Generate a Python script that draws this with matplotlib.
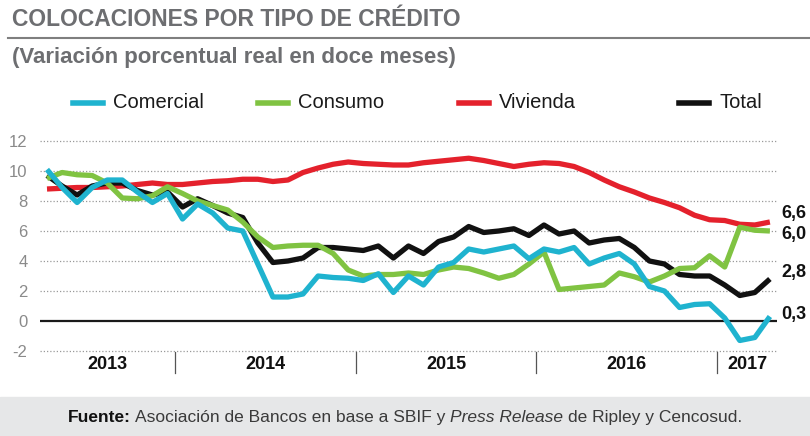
import matplotlib
matplotlib.use('Agg')
import matplotlib.pyplot as plt
import numpy as np
import pandas as pd
from matplotlib.lines import Line2D
from matplotlib.patches import Rectangle

NARROW = ['Liberation Sans Narrow', 'Liberation Sans', 'DejaVu Sans']
SANS = ['Liberation Sans', 'DejaVu Sans']
plt.rcParams['font.family'] = SANS
plt.rcParams['axes.unicode_minus'] = False

# monthly data, Apr 2013 - Apr 2017 (real 12-month % change)
months = pd.date_range('2013-04-01', periods=49, freq='MS')
comercial = [10.1, 8.9, 7.9, 8.9, 9.4, 9.4, 8.6, 7.9, 8.5, 6.8, 7.8, 7.2, 6.2, 6.0, 3.8, 1.6,
             1.6, 1.8, 3.0, 2.9, 2.85, 2.7, 3.15, 1.9, 3.0, 2.4, 3.6, 3.9, 4.8, 4.6, 4.8, 5.0,
             4.15, 4.8, 4.6, 4.9, 3.8, 4.2, 4.5, 3.8, 2.3, 2.0, 0.9, 1.1, 1.15, 0.2, -1.3, -1.1, 0.3]
consumo = [9.5, 9.9, 9.75, 9.7, 9.2, 8.2, 8.15, 8.35, 8.95, 8.5, 8.0, 7.7, 7.4, 6.6, 5.6, 4.9,
           5.0, 5.05, 5.05, 4.5, 3.4, 3.0, 3.1, 3.1, 3.2, 3.1, 3.4, 3.6, 3.5, 3.2, 2.85, 3.1,
           3.8, 4.6, 2.1, 2.2, 2.3, 2.4, 3.2, 2.95, 2.6, 3.0, 3.5, 3.55, 4.35, 3.6, 6.25, 6.05, 6.0]
vivienda = [8.8, 8.85, 8.9, 8.9, 8.95, 9.0, 9.1, 9.2, 9.1, 9.1, 9.2, 9.3, 9.35, 9.45, 9.45, 9.3,
            9.4, 9.9, 10.2, 10.45, 10.6, 10.5, 10.45, 10.4, 10.4, 10.55, 10.65, 10.75, 10.85, 10.7,
            10.5, 10.3, 10.45, 10.55, 10.5, 10.3, 9.9, 9.4, 8.95, 8.6, 8.2, 7.9, 7.55, 7.05, 6.75,
            6.7, 6.45, 6.4, 6.6]
total = [9.7, 9.0, 8.4, 9.0, 9.2, 9.2, 8.7, 8.4, 8.6, 7.6, 8.15, 7.7, 7.2, 6.9, 5.2, 3.9,
         4.0, 4.2, 4.9, 4.9, 4.8, 4.7, 5.0, 4.2, 5.0, 4.5, 5.3, 5.6, 6.3, 5.9, 6.0, 6.15, 5.7,
         6.4, 5.8, 6.0, 5.2, 5.4, 5.5, 4.9, 4.0, 3.8, 3.1, 3.0, 3.0, 2.4, 1.7, 1.9, 2.8]
names = ['Comercial', 'Consumo', 'Vivienda', 'Total']
end_labels = ['0,3', '6,0', '6,6', '2,8']

colors = ['#1fb3cf', '#80c342', '#e4212c', '#111111']
label_dy = [0.1, -0.25, 0.55, 0.4]   # nudges for the end labels
legend_x = [73, 258, 459, 679]       # legend swatch positions (px)

W, H = 810, 436
fig = plt.figure(figsize=(W / 100, H / 100), dpi=100)


def fx(px):
    return px / W


def fy(py):
    return 1 - py / H


# footer band
fig.add_artist(Rectangle((0, 0), 1, fy(397), transform=fig.transFigure, color='#e6e7e8', zorder=0))

# axes: x index -> pixels 47 + 15.06*i ; y 12 at 141px, -2 at 351px
x0_px, step_px = 47, 15.06
ax_l, ax_r = 40, 777
ax = fig.add_axes([fx(ax_l), fy(351), fx(ax_r - ax_l), (351 - 141) / H])
ax.set_xlim((ax_l - x0_px) / step_px, (ax_r - x0_px) / step_px)
ax.set_ylim(-2, 12)
ax.patch.set_alpha(0)
for s in ax.spines.values():
    s.set_visible(False)
ax.set_xticks([])
ax.set_yticks(range(-2, 13, 2))
ax.tick_params(axis='y', length=0, pad=9, labelsize=12, labelcolor='#8a8a8a')

for v in range(-2, 13, 2):
    if v == 0:
        ax.axhline(0, color='#1a1a1a', lw=1.6, zorder=1)
    else:
        ax.axhline(v, color='#9a9a9a', lw=0.9, ls=(0, (1, 1.6)), clip_on=False, zorder=1)

x = np.arange(len(months))
series = [comercial, consumo, vivienda, total]
draw_order = [2, 3, 1, 0]  # red, black, green, cyan on top
for k in draw_order:
    ax.plot(x, series[k], color=colors[k], lw=3.8, solid_joinstyle='round',
            solid_capstyle='butt', clip_on=False, zorder=3 + draw_order.index(k))

for k in range(4):
    ax.text(x[-1] + 0.75, series[k][-1] + label_dy[k], end_labels[k], family=NARROW,
            fontweight='bold', fontsize=13, color='#111111', va='center', ha='left', clip_on=False)

# years: dividers and labels
years = months.year
for yr in sorted(set(years)):
    idx = np.where(years == yr)[0]
    ax.text(idx.mean(), -2.87, str(yr), ha='center', va='center', fontweight='bold',
            fontsize=13, color='#111111', clip_on=False)
    if idx[0] > 0:
        ax.plot([idx[0] - 0.5] * 2, [-2.07, -3.47], color='#555555', lw=0.9, clip_on=False)

# title block
fig.text(fx(12), fy(19), 'COLOCACIONES POR TIPO DE CRÉDITO', family=NARROW, weight='bold',
         size=16.5, color='#6d6e71', va='center')
fig.add_artist(Line2D([fx(8), 1], [fy(38), fy(38)], color='#7f7f7f', lw=1.5))
fig.text(fx(12), fy(58), '(Variación porcentual real en doce meses)', family=NARROW, weight='bold',
         size=16, color='#6d6e71', va='center')

# legend
for k in range(4):
    fig.add_artist(Line2D([fx(legend_x[k]), fx(legend_x[k] + 30)], [fy(103), fy(103)],
                          color=colors[k], lw=4))
    fig.text(fx(legend_x[k] + 40), fy(103), names[k], family=NARROW, size=14.5,
             color='#1a1a1a', va='center')

# footer with mixed styles
pieces = [('Fuente:', dict(weight='bold', color='#111111')),
          ('Asociación de Bancos en base a SBIF y', dict(color='#3a3a3a')),
          ('Press Release', dict(style='italic', color='#3a3a3a')),
          ('de Ripley y Cencosud.', dict(color='#3a3a3a'))]
renderer = fig.canvas.get_renderer()
texts = [fig.text(0, fy(417), t, size=12.5, va='center', **kw) for t, kw in pieces]
widths = [t.get_window_extent(renderer).width for t in texts]
gap = 4.5
start = (W - (sum(widths) + gap * (len(widths) - 1))) / 2
for t, w in zip(texts, widths):
    t.set_x(fx(start))
    start += w + gap

fig.savefig('out.png', dpi=100)
